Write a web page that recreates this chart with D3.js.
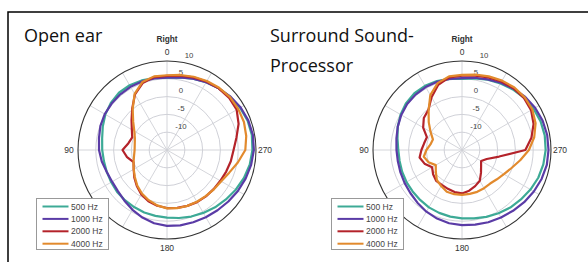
<!DOCTYPE html>
<html>
<head>
<meta charset="utf-8">
<script src="https://cdn.jsdelivr.net/npm/d3@7"></script>
<style>
  body { margin: 0; background: #fff; }
  svg { display: block; }
</style>
</head>
<body>
<div id="chart"></div>
<script>
// angles in degrees, 0 = top ("Right"), counter-clockwise (90 left, 270 right)
var angles = d3.range(0, 360, 10);
var seriesNames = ["500 Hz", "1000 Hz", "2000 Hz", "4000 Hz"];
var seriesColors = ["#3daa96", "#5a3ba6", "#b4232a", "#e28a2d"];
var radialTicks = [-10, -5, 0, 5, 10];
var angleTicks = [0, 90, 180, 270];
var panelTitles = [["Open ear"], ["Surround Sound-", "Processor"]];

// Open ear (dB)
var open500  = [5.3,5.5,5.8,6.0,6.0,5.6,5.0,4.2,3.5,3.2,3.0,3.0,3.1,3.3,3.4,3.5,3.7,3.8,
                4.0,4.4,4.9,5.4,6.0,6.6,7.3,8.0,8.6,9.0,9.2,9.1,8.7,8.2,7.6,7.0,6.3,5.7];
var open1000 = [5.3,5.4,5.5,5.5,5.4,5.3,5.2,4.9,4.4,4.1,3.6,3.0,2.8,3.0,3.6,4.4,5.2,5.9,
                6.3,6.5,6.6,6.8,7.1,7.5,8.0,8.5,9.0,9.4,9.5,9.3,8.9,8.3,7.6,7.0,6.3,5.7];
var open2000 = [5.8,5.8,5.0,3.0,0.2,-2.0,-3.6,-4.6,-4.0,-2.5,-3.6,-5.0,-4.2,-3.0,-1.8,-0.6,0.3,0.9,
                1.3,1.5,1.7,1.9,2.0,2.1,2.3,2.7,3.2,3.7,4.8,6.4,7.6,7.8,7.6,7.2,6.7,6.2];
var open4000 = [6.0,6.0,5.3,3.2,0.0,-2.6,-4.4,-5.4,-5.8,-5.9,-5.6,-5.0,-4.2,-3.2,-2.0,-0.9,0.0,0.8,
                1.4,1.6,1.7,1.8,1.9,2.2,2.6,3.6,5.2,7.0,7.6,8.0,8.1,8.1,7.8,7.4,6.9,6.4];

// Surround Sound-Processor (dB)
var proc500  = [5.0,5.3,5.6,5.8,5.8,5.5,4.9,4.2,3.4,2.9,2.8,2.9,3.0,3.1,3.3,3.6,3.8,4.0,
                4.2,4.5,5.0,5.5,6.1,6.6,7.2,7.8,8.2,8.5,8.6,8.5,8.2,7.8,7.2,6.6,6.0,5.4];
var proc1000 = [5.2,5.3,5.4,5.4,5.3,5.1,4.7,4.2,3.7,3.4,3.3,3.4,3.6,3.9,4.4,5.0,5.5,5.9,
                6.1,6.3,6.6,6.9,7.3,7.8,8.3,8.8,9.2,9.3,9.3,9.1,8.7,8.2,7.5,6.8,6.1,5.6];
var proc2000 = [5.9,5.7,4.5,2.1,-0.3,-1.0,-2.4,-4.5,-4.2,-3.6,-2.9,-3.8,-5.3,-4.4,-3.7,-3.7,-3.4,-3.0,
                -2.8,-3.4,-4.2,-5.0,-6.7,-8.0,-8.8,-7.6,-4.4,2.8,4.8,6.4,7.4,7.7,7.6,7.2,6.7,6.2];
var proc4000 = [6.1,6.0,5.0,2.8,-0.4,-2.8,-4.8,-6.3,-6.0,-5.0,-4.1,-5.0,-6.5,-5.4,-4.0,-3.3,-2.5,-2.4,
                -2.4,-2.5,-2.5,-2.6,-2.7,-2.2,-1.4,-0.2,1.6,3.8,5.6,7.0,7.8,8.0,7.9,7.5,7.0,6.5];

var panels = [
  { title: panelTitles[0], cx: 167, cy: 150, data: [open500, open1000, open2000, open4000] },
  { title: panelTitles[1], cx: 462, cy: 150, data: [proc500, proc1000, proc2000, proc4000] }
];

var W = 588, H = 262, R = 89;
var toRad = Math.PI / 180;

var svg = d3.select("#chart").append("svg")
    .attr("width", W)
    .attr("height", H);

svg.append("rect").attr("width", W).attr("height", H).attr("fill", "#fff");

// frame (top and left border)
svg.append("path")
    .attr("d", "M8," + H + "V12H" + W)
    .attr("fill", "none")
    .attr("stroke", "#000")
    .attr("stroke-width", 1.5);

var r = d3.scaleLinear().domain([-15, 10]).range([0, R]);

var line = d3.lineRadial()
    .angle(function(d) { return -d.a * toRad; })
    .radius(function(d) { return r(d.v); })
    .curve(d3.curveLinearClosed);

panels.forEach(function(p, pi) {
    var titleX = pi === 0 ? 24 : 270;
    p.title.forEach(function(t, i) {
        svg.append("text")
            .attr("x", titleX)
            .attr("y", 41.5 + i * 30)
            .attr("font-family", "'Open Sans', sans-serif")
            .attr("font-size", 18)
            .attr("fill", "#111")
            .text(t);
    });

    var g = svg.append("g").attr("transform", "translate(" + p.cx + "," + p.cy + ")");

    // grid circles
    g.selectAll("circle.grid")
        .data(radialTicks.slice(0, -1))
        .enter().append("circle")
        .attr("r", function(d) { return r(d); })
        .attr("fill", "none")
        .attr("stroke", "#c9cbd3")
        .attr("stroke-width", 0.9);

    // spokes every 30 degrees
    g.selectAll("line.spoke")
        .data(d3.range(0, 360, 30))
        .enter().append("line")
        .attr("x1", 0).attr("y1", 0)
        .attr("x2", function(d) { return -R * Math.sin(d * toRad); })
        .attr("y2", function(d) { return -R * Math.cos(d * toRad); })
        .attr("stroke", "#cfd0d6")
        .attr("stroke-width", 0.9);

    // radial tick labels
    g.selectAll("text.rtick")
        .data(radialTicks)
        .enter().append("text")
        .attr("x", function(d) { return d === 10 ? 22 : 14; })
        .attr("y", function(d) { return -r(d) - 3.5; })
        .attr("text-anchor", "middle")
        .attr("font-family", "'Liberation Sans', Arial, sans-serif")
        .attr("font-size", 7.8)
        .attr("fill", "#444")
        .text(function(d) { return d; });

    // curves
    p.data.forEach(function(vals, si) {
        var pts = angles.map(function(a, k) { return { a: a, v: vals[k] }; });
        g.append("path")
            .attr("d", line(pts))
            .attr("fill", "none")
            .attr("stroke", seriesColors[si])
            .attr("stroke-width", 2.2)
            .attr("stroke-linejoin", "round");
    });

    // outer circle
    g.append("circle")
        .attr("r", R)
        .attr("fill", "none")
        .attr("stroke", "#333")
        .attr("stroke-width", 1.1);

    // angle labels
    g.selectAll("text.atick")
        .data(angleTicks)
        .enter().append("text")
        .attr("x", function(d) { return -(R + 9) * Math.sin(d * toRad); })
        .attr("y", function(d) { return -(R + 9) * Math.cos(d * toRad) + 3; })
        .attr("text-anchor", "middle")
        .attr("font-family", "'Liberation Sans', Arial, sans-serif")
        .attr("font-size", 8.5)
        .attr("fill", "#333")
        .text(function(d) { return d; });

    g.append("text")
        .attr("x", 0)
        .attr("y", -R - 19)
        .attr("text-anchor", "middle")
        .attr("font-family", "'Liberation Sans', Arial, sans-serif")
        .attr("font-weight", "bold")
        .attr("font-size", 8.3)
        .attr("fill", "#333")
        .text("Right");

    // legend
    var lg = g.append("g").attr("transform", "translate(" + (-130.5) + "," + 48.5 + ")");
    lg.append("rect")
        .attr("width", 72).attr("height", 51)
        .attr("fill", "#fff")
        .attr("stroke", "#999")
        .attr("stroke-width", 1);
    seriesNames.forEach(function(name, si) {
        var y = 8 + si * 12.4;
        lg.append("line")
            .attr("x1", 6).attr("x2", 32)
            .attr("y1", y).attr("y2", y)
            .attr("stroke", seriesColors[si])
            .attr("stroke-width", 2);
        lg.append("text")
            .attr("x", 34.5).attr("y", y + 3)
            .attr("font-family", "'Liberation Sans', Arial, sans-serif")
            .attr("font-size", 8.5)
            .attr("fill", "#444")
            .text(name);
    });
});
</script>
</body>
</html>
